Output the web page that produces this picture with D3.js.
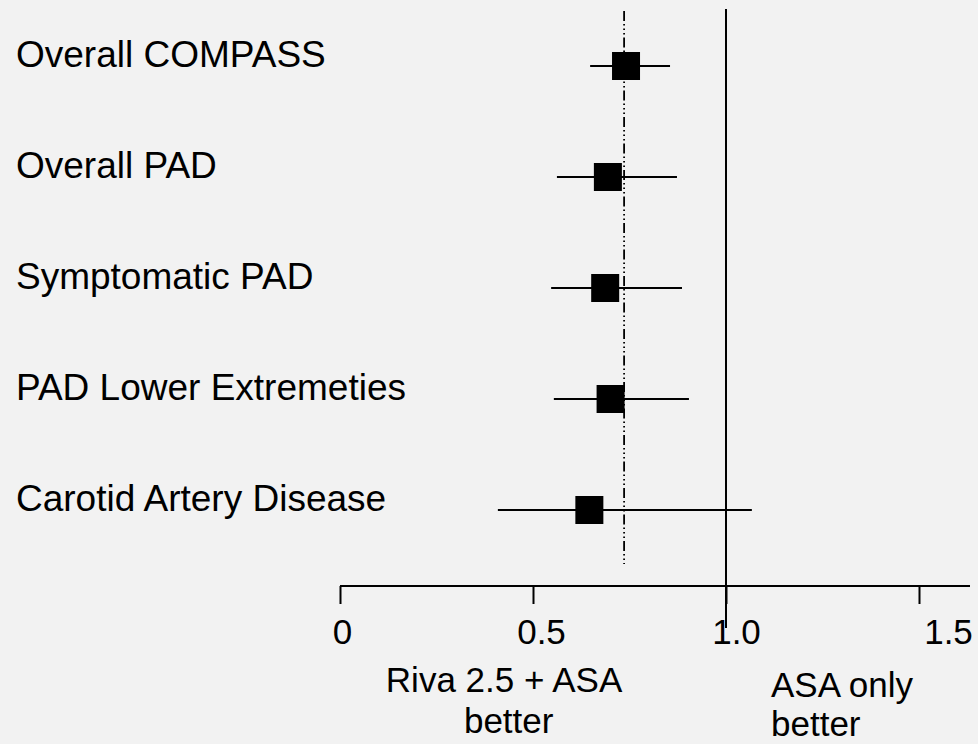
<!DOCTYPE html>
<html>
<head>
<meta charset="utf-8">
<script src="https://cdn.jsdelivr.net/npm/d3@7"></script>
<style>
  html, body { margin: 0; padding: 0; background: #f2f2f2; }
  svg { display: block; font-family: "Liberation Sans", Arial, sans-serif; }
</style>
</head>
<body>
<div id="chart"></div>
<script>
// Forest plot data (hazard ratios)
const categories = ["Overall COMPASS", "Overall PAD", "Symptomatic PAD", "PAD Lower Extremeties", "Carotid Artery Disease"];
const estimates = [0.741, 0.694, 0.687, 0.701, 0.646];
const lowerCI = [0.648, 0.562, 0.547, 0.554, 0.409];
const upperCI = [0.855, 0.873, 0.886, 0.904, 1.067];
const overallHR = 0.736;
const tickValues = [0, 0.5, 1.0, 1.5];
const tickLabels = ["0", "0.5", "1.0", "1.5"];

const width = 978, height = 744;

const svg = d3.select("#chart").append("svg")
  .attr("width", width)
  .attr("height", height);

svg.append("rect")
  .attr("width", width)
  .attr("height", height)
  .attr("fill", "#f2f2f2");

const x = d3.scaleLinear().domain([0, 1.5]).range([340, 919]);
const y = d3.scalePoint().domain(categories).range([66, 510]);
const axisY = 586;

//Row labels on the left
svg.selectAll(".rowLabel")
  .data(categories)
  .enter().append("text")
  .attr("class", "rowLabel")
  .attr("x", 16)
  .attr("y", d => y(d) + 1)
  .style("font-size", "37px")
  .attr("fill", "#000")
  .text(d => d);

//Line of no effect
svg.append("line")
  .attr("x1", x(1)).attr("x2", x(1))
  .attr("y1", 9).attr("y2", 628)
  .attr("stroke", "#000")
  .attr("stroke-width", 2);

//Overall estimate, dash-dot-dot line
svg.append("line")
  .attr("x1", x(overallHR)).attr("x2", x(overallHR))
  .attr("y1", 11).attr("y2", 564)
  .attr("stroke", "#000")
  .attr("stroke-width", 1.8)
  .attr("stroke-dasharray", "10,3,1.5,3,1.5,3,1.5,3");

const rows = categories.map((c, i) => ({ name: c, est: estimates[i], lo: lowerCI[i], hi: upperCI[i] }));

//Confidence intervals
svg.selectAll(".ci")
  .data(rows)
  .enter().append("line")
  .attr("class", "ci")
  .attr("x1", d => x(d.lo))
  .attr("x2", d => x(d.hi))
  .attr("y1", d => y(d.name))
  .attr("y2", d => y(d.name))
  .attr("stroke", "#000")
  .attr("stroke-width", 2);

//Point estimates
const box = 28;
svg.selectAll(".pt")
  .data(rows)
  .enter().append("rect")
  .attr("class", "pt")
  .attr("x", d => x(d.est) - box / 2)
  .attr("y", d => y(d.name) - box / 2)
  .attr("width", box)
  .attr("height", box)
  .attr("fill", "#000");

//Axis
const axis = d3.axisBottom(x)
  .tickValues(tickValues)
  .tickSize(18)
  .tickSizeOuter(0)
  .tickFormat((d, i) => tickLabels[i]);

const gAxis = svg.append("g")
  .attr("transform", `translate(0,${axisY})`)
  .call(axis);

gAxis.select(".domain")
  .attr("d", `M${x(0)},0H970`)
  .attr("stroke", "#000")
  .attr("stroke-width", 2);
gAxis.selectAll(".tick line")
  .attr("stroke", "#000")
  .attr("stroke-width", 2);

const nudge = [2, 8, 10, 29];
gAxis.selectAll(".tick text")
  .attr("y", 58)
  .attr("dy", 0)
  .attr("dx", (d, i) => nudge[i])
  .style("font-size", "35px")
  .style("font-family", "Liberation Sans, Arial, sans-serif")
  .attr("fill", "#000");

//Direction labels
const leftNote = svg.append("text")
  .attr("text-anchor", "middle")
  .style("font-size", "35px")
  .attr("fill", "#000");
leftNote.append("tspan").attr("x", x(0.425)).attr("y", 692).text("Riva 2.5 + ASA");
leftNote.append("tspan").attr("x", x(0.437)).attr("y", 733).text("better");

const rightNote = svg.append("text")
  .style("font-size", "35px")
  .attr("fill", "#000");
rightNote.append("tspan").attr("x", x(1) + 45).attr("y", 697).text("ASA only");
rightNote.append("tspan").attr("x", x(1) + 45).attr("y", 736).text("better");
</script>
</body>
</html>
